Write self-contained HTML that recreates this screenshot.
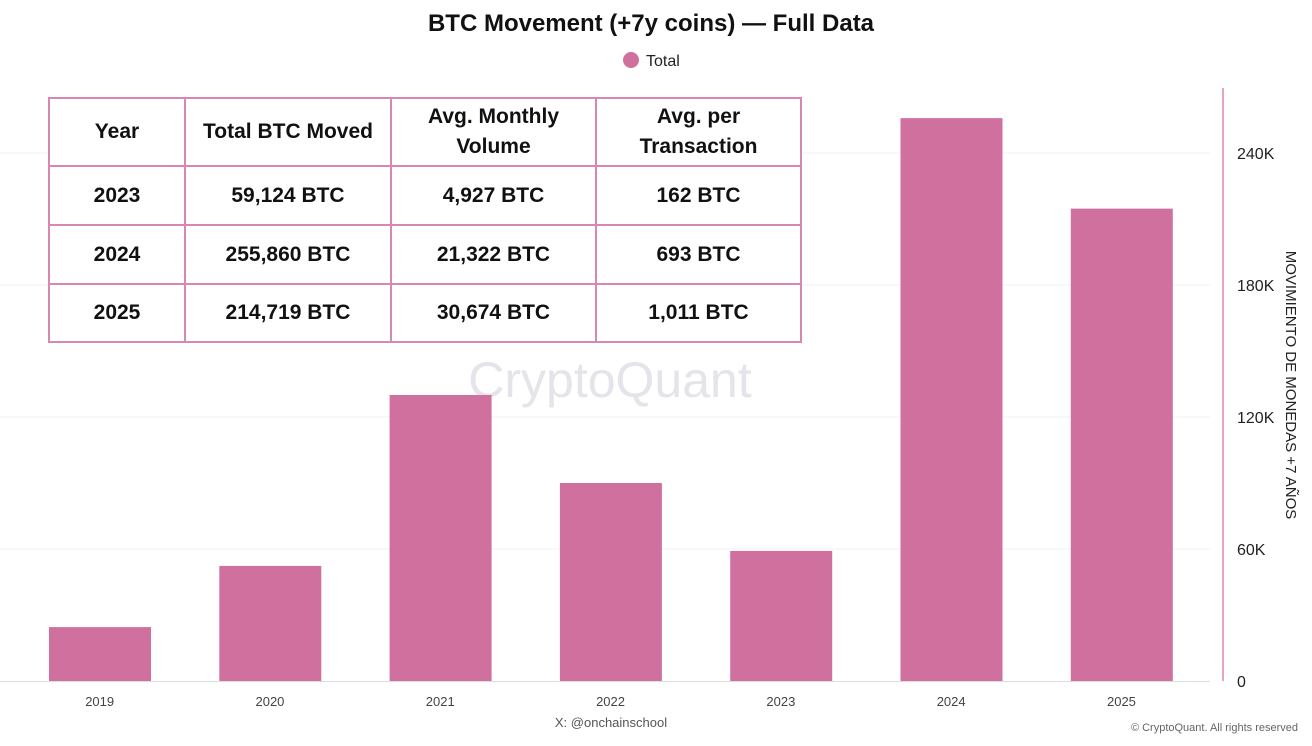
<!DOCTYPE html>
<html><head><meta charset="utf-8"><style>
body{margin:0;width:1312px;height:746px;background:#fff;overflow:hidden;font-family:"Liberation Sans",sans-serif}
svg{position:absolute;left:0;top:0}
table{position:absolute;left:48px;top:97px;border-collapse:collapse;background:#fff;font-weight:bold;font-size:21px;color:#111}
td{border:2px solid #d887b3;text-align:center;padding:0;line-height:30px}
</style></head><body>
<svg id="chart" width="1312" height="746"></svg>
<table>
<tr style="height:68px"><td style="width:134px">Year</td><td style="width:204px">Total BTC Moved</td><td style="width:203px">Avg. Monthly<br>Volume</td><td style="width:203px">Avg. per<br>Transaction</td></tr>
<tr style="height:59px"><td>2023</td><td>59,124 BTC</td><td>4,927 BTC</td><td>162 BTC</td></tr>
<tr style="height:59px"><td>2024</td><td>255,860 BTC</td><td>21,322 BTC</td><td>693 BTC</td></tr>
<tr style="height:58px"><td>2025</td><td>214,719 BTC</td><td>30,674 BTC</td><td>1,011 BTC</td></tr>
</table>
<script>
const categories=["2019","2020","2021","2022","2023","2024","2025"];
const values=[24500,52300,130000,90000,59124,255860,214719];
const ticks=[0,60000,120000,180000,240000];
const tickLabels=["0","60K","120K","180K","240K"];
const svg=document.getElementById('chart');
const NS='http://www.w3.org/2000/svg';
const x0=14.5,bw=170.3,y0=681,pxPer=132/60000;
const xs=i=>x0+i*bw;
const ys=v=>y0-v*pxPer;
function mk(t,a,txt){const e=document.createElementNS(NS,t);for(const k in a)e.setAttribute(k,a[k]);if(txt!=null)e.textContent=txt;svg.appendChild(e);return e;}
let e;
e=mk('text',{x:651,y:31,'text-anchor':'middle','font-size':24,'font-weight':'bold',fill:'#111'},'BTC Movement (+7y coins) — Full Data');


e=mk('circle',{cx:631,cy:60,r:8,fill:'#d0709e'});


e=mk('text',{x:646,y:66,'font-size':16,fill:'#222'},'Total');


ticks.forEach((t,i)=>{
 if(t>0){e=mk('line',{x1:0,x2:1210,y1:ys(t),y2:ys(t),stroke:'#f2f2f2'});
 
 }
 e=mk('text',{x:1237,y:ys(t)+6,'font-size':16,fill:'#222'},tickLabels[i]);
 
 
});
e=mk('text',{x:610,y:397,'font-size':50,fill:'#e4e4ea','text-anchor':'middle'},'CryptoQuant');


values.forEach((v,i)=>{
 e=mk('rect',{x:xs(i)+34.5,y:ys(v),width:102,height:y0-ys(v),fill:'#d0709e'});
 
 
 e=mk('text',{x:xs(i)+bw/2,y:706,'text-anchor':'middle','font-size':13,fill:'#444'},categories[i]);
 
 
});
e=mk('line',{x1:0,x2:1210,y1:y0+0.5,y2:y0+0.5,stroke:'#ddd'});


e=mk('line',{x1:1223,x2:1223,y1:88,y2:y0,stroke:'#e8a2c4','stroke-width':2});


e=mk('text',{x:1286,y:385,'text-anchor':'middle','font-size':15,fill:'#222',transform:'rotate(90 1286 385)'},'MOVIMIENTO DE MONEDAS +7 AÑOS');


e=mk('text',{x:611,y:727,'text-anchor':'middle','font-size':13,fill:'#555'},'X: @onchainschool');


e=mk('text',{x:1298,y:731,'text-anchor':'end','font-size':11,fill:'#666'},'© CryptoQuant. All rights reserved');


</script>
</body></html>
